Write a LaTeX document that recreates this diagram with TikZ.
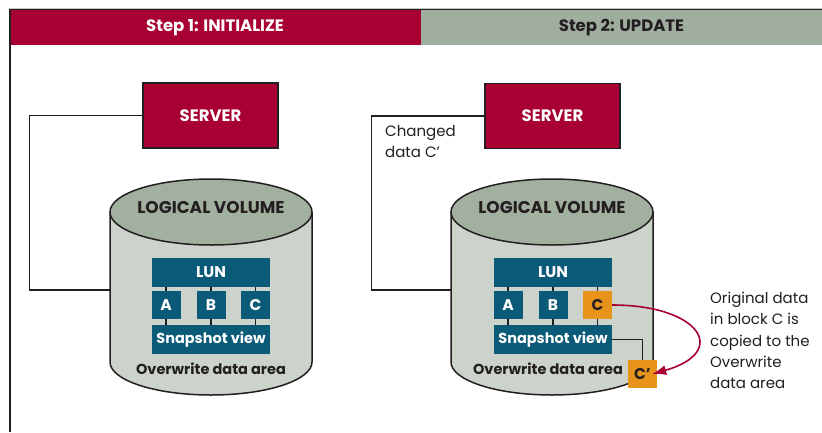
\documentclass[tikz,border=0pt]{standalone}
\usepackage{fontspec}
\setmainfont{Poppins}
\usetikzlibrary{arrows.meta}
\definecolor{crimson}{RGB}{168,0,50}
\definecolor{headgray}{RGB}{160,174,160}
\definecolor{cyltop}{RGB}{162,176,160}
\definecolor{cylbody}{RGB}{203,211,203}
\definecolor{lunblue}{RGB}{10,90,120}
\definecolor{cgold}{RGB}{232,148,26}
\definecolor{darkline}{RGB}{35,31,32}

\begin{document}
\begin{tikzpicture}[x=1pt,y=1pt,
    band/.style={minimum height=35pt,inner sep=0pt,font=\fontsize{16.5}{19}\selectfont\bfseries},
    server/.style={draw=darkline,line width=1.5pt,fill=crimson,text=white,
      minimum width=135pt,minimum height=65pt,font=\fontsize{16.5}{19}\selectfont\bfseries},
    blk/.style={fill=lunblue,text=white,inner sep=0pt,minimum width=29pt,minimum height=28pt,
      font=\fontsize{15.5}{18}\selectfont\bfseries},
    wide/.style={blk,minimum width=118pt,minimum height=29pt},
    voltext/.style={text=darkline,inner sep=0pt,font=\fontsize{17}{20}\selectfont\bfseries},
    ovtext/.style={voltext,font=\fontsize{14.5}{18}\selectfont\bfseries},
    note/.style={text=darkline,inner sep=0pt,align=left,font=\fontsize{15}{21.3}\selectfont},
    link/.style={draw=darkline,line width=1.4pt},
    copyarrow/.style={draw=crimson,line width=1.6pt,-{Latex[length=14pt,width=10pt]}}]
  \useasboundingbox (0,0) rectangle (822,-432);

  % 标题栏
  \draw[gray!45,line width=1pt] (9,-8) -- (822,-8);
  \draw[darkline,line width=1.6pt] (9,-9.7) -- (822,-9.7);
  \node[band,fill=crimson,text=white,minimum width=412pt] (step1) at (215,-27.5) {Step 1: INITIALIZE};
  \node[band,fill=headgray,text=darkline,minimum width=401pt] (step2) at (621.5,-27.5) {Step 2: UPDATE};
  \draw[darkline,line width=2pt] (9.5,-9) -- (9.5,-432);

  % 两个圆柱, 先画侧面再画顶面椭圆
  \foreach \cx in {211,552}{
    \fill[cylbody] (\cx-101,-212) rectangle (\cx+101,-362);
    \fill[cylbody] (\cx,-362) ellipse[x radius=101,y radius=33];
    \draw[darkline,line width=1.5pt] (\cx-101,-212) -- (\cx-101,-362)
      arc[start angle=180,end angle=360,x radius=101,y radius=33] -- (\cx+101,-212);
    \filldraw[fill=cyltop,draw=darkline,line width=1.5pt] (\cx,-212) ellipse[x radius=101,y radius=33];
  }
  \coordinate (vol1) at (110,-290);
  \coordinate (vol2) at (451,-290);

  % Step 1
  \node[server] (server1) at (210.5,-115.5) {SERVER};
  \node[voltext] (lv1) at (211,-208) {LOGICAL VOLUME};
  \node[wide] (lun1) at (211,-272) {LUN};
  \node[blk] (a1) at (166,-305) {A};
  \node[blk] (b1) at (211,-305) {B};
  \node[blk] (c1) at (255.5,-305) {C};
  \node[wide,font=\fontsize{14.5}{18}\selectfont\bfseries] (snap1) at (211,-339.5) {Snapshot view};
  \node[ovtext] (ow1) at (211,-369) {Overwrite data area};
  \draw[link] (server1.west) -- ++(-113,0) |- (vol1);

  % Step 2
  \node[server] (server2) at (552.5,-116) {SERVER};
  \node[voltext] (lv2) at (552,-208) {LOGICAL VOLUME};
  \node[wide] (lun2) at (553,-272.5) {LUN};
  \node[blk] (a2) at (508,-305) {A};
  \node[blk] (b2) at (553,-305) {B};
  \node[blk,fill=cgold,text=darkline] (c2) at (597.5,-305) {C};
  \node[wide,font=\fontsize{14.5}{18}\selectfont\bfseries] (snap2) at (553,-339.5) {Snapshot view};
  \node[ovtext] (ow2) at (548,-369) {Overwrite data area};
  \node[blk,fill=cgold,text=darkline] (cp) at (642.5,-374) {C'};
  \draw[link] (server2.west) -- ++(-113,0) |- (vol2);
  \node[note,anchor=north west] (chg) at (385,-125) {Changed\\data C'};

  % 块之间的短线
  \foreach \b/\n in {a1/1,b1/1,c1/1,a2/2,b2/2,c2/2}{
    \draw[link] (\b.north) -- (\b.north |- lun\n.south);
    \draw[link] (\b.south) -- (\b.south |- snap\n.north);
  }
  \draw[link] (snap2.east) -| (cp.north);

  \draw[copyarrow] (c2.east) .. controls (700,-305) and (730,-352) .. ([xshift=-5pt]cp.east);
  \node[note,anchor=north west] (expl) at (710,-292) {Original data\\in block C is\\copied to the\\Overwrite\\data area};
\end{tikzpicture}
\end{document}
